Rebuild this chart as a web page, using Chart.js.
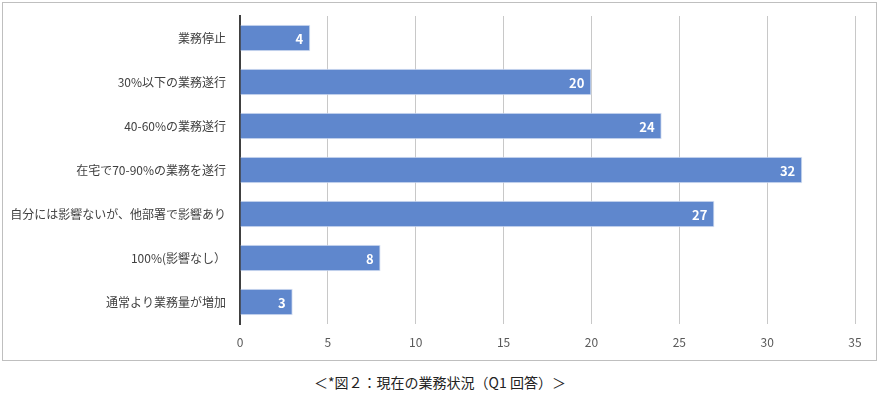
<!DOCTYPE html>
<html>
<head>
<meta charset="utf-8">
<script src="https://cdn.jsdelivr.net/npm/chart.js@4"></script>
<style>
  body { margin: 0; background: #fff; font-family: "Noto Sans CJK JP", sans-serif; }
  #frame { position: absolute; left: 2px; top: 2px; width: 873px; height: 357px; border: 1px solid #bfbfbf; }
  #caption { position: absolute; left: 0; width: 880px; top: 372px; text-align: center; font-size: 14px; color: #222; }
</style>
</head>
<body>
<div id="frame"><canvas id="chart" width="873" height="357"></canvas></div>
<div id="caption">＜*図２：現在の業務状況（Q1 回答）＞</div>
<script>
const categories = [
    '業務停止',
    '30%以下の業務遂行',
    '40-60%の業務遂行',
    '在宅で70-90%の業務を遂行',
    '自分には影響ないが、他部署で影響あり',
    '100%(影響なし）',
    '通常より業務量が増加'
];
const counts = [4, 20, 24, 32, 27, 8, 3];
const xTicks = [0, 5, 10, 15, 20, 25, 30, 35];

// value labels drawn inside the end of each bar
const barLabels = {
    id: 'barLabels',
    afterDatasetsDraw(chart) {
        const ctx = chart.ctx;
        const meta = chart.getDatasetMeta(0);
        ctx.save();
        ctx.font = 'bold 13px "Noto Sans CJK JP", sans-serif';
        ctx.fillStyle = '#ffffff';
        ctx.textAlign = 'right';
        ctx.textBaseline = 'middle';
        meta.data.forEach(function(bar, i) {
            ctx.fillText(String(counts[i]), bar.x - 7, bar.y + 1);
        });
        ctx.restore();
    }
};

new Chart(document.getElementById('chart').getContext('2d'), {
    type: 'bar',
    data: {
        labels: categories,
        datasets: [{
            data: counts,
            backgroundColor: '#5f87cd',
            borderColor: '#d6e0f2',
            borderWidth: 1,
            categoryPercentage: 1,
            barPercentage: 0.6
        }]
    },
    options: {
        indexAxis: 'y',
        responsive: false,
        animation: false,
        layout: { padding: { top: 13, right: 21, left: 0, bottom: 0 } },
        plugins: { legend: { display: false }, tooltip: { enabled: false } },
        scales: {
            x: {
                min: 0,
                max: 35,
                afterBuildTicks: function(axis) { axis.ticks = xTicks.map(v => ({ value: v })); },
                afterFit: function(axis) { axis.height = 36; axis.paddingLeft = 0; axis.paddingRight = 0; },
                grid: { color: '#c8c8c8', drawTicks: false },
                border: { display: false },
                ticks: { padding: 11, color: '#595959', font: { size: 12, family: '"Noto Sans CJK JP", sans-serif' } }
            },
            y: {
                afterFit: function(axis) { axis.width = 237; axis.paddingTop = 0; axis.paddingBottom = 0; },
                grid: { display: false, drawTicks: false },
                border: { color: '#404040', width: 2 },
                ticks: { padding: 14, color: '#404040', font: { size: 12, family: '"Noto Sans CJK JP", sans-serif' } }
            }
        }
    },
    plugins: [barLabels]
});
</script>
</body>
</html>
